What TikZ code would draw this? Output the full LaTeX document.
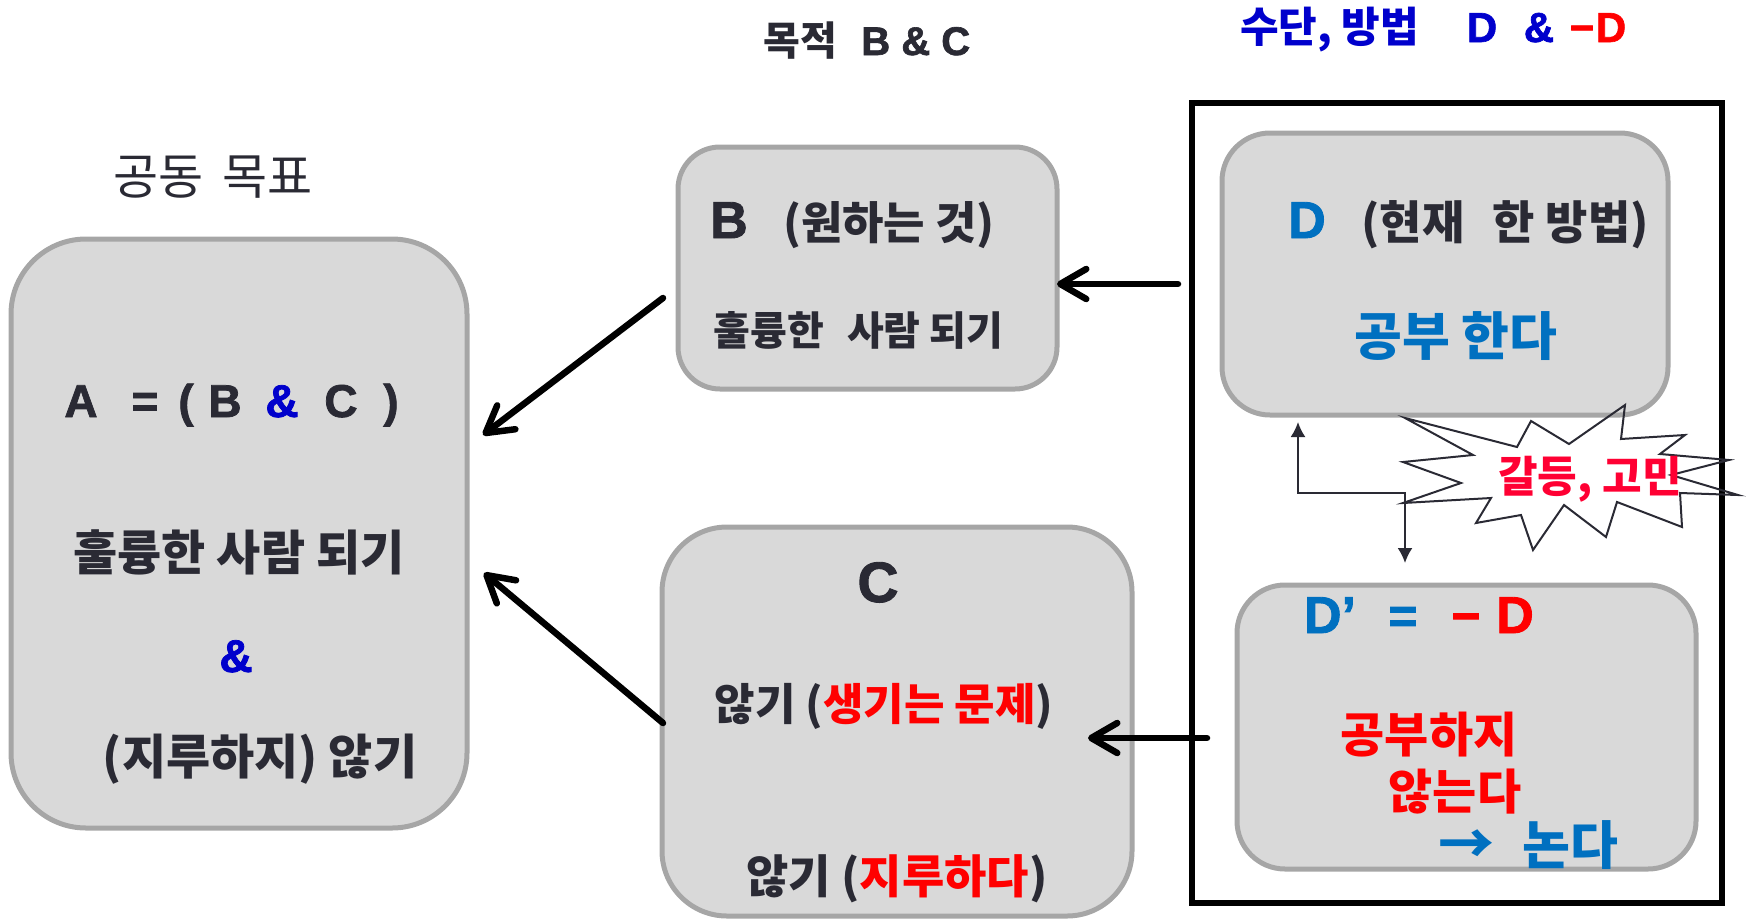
\documentclass[tikz,border=0pt]{standalone}
\usepackage{fontspec}
\setmainfont{Noto Sans CJK KR}
\newfontfamily\lat{Liberation Sans}[BoldFeatures={FakeBold=1.6}]
\usetikzlibrary{arrows.meta,calc}
\definecolor{txt}{HTML}{2A2A34}
\definecolor{boxfill}{HTML}{D9D9D9}
\definecolor{boxline}{HTML}{A6A6A6}
\definecolor{hblue}{HTML}{0000CC}
\definecolor{dblue}{HTML}{0070C0}
\definecolor{myred}{HTML}{FF0000}
\definecolor{crim}{HTML}{FF0033}
\newcommand{\fs}[1]{\fontsize{#1}{#1}\selectfont}
\tikzset{
  rbox/.style={draw=boxline, fill=boxfill, line width=5pt, inner sep=0pt, outer sep=0pt},
  tx/.style={inner sep=0pt, anchor=base, text=txt, font=\bfseries},
  arr/.style={draw=black, line width=6.5pt, line cap=round, -{Straight Barb[length=26pt,width=30pt,round]}},
  elb/.style={draw=txt, line width=2pt, {Latex[length=15pt,width=15pt]}-{Latex[length=15pt,width=15pt]}},
  burst/.style={draw=txt, line width=2pt, line join=miter}
}
\begin{document}
\begin{tikzpicture}[x=1pt,y=-1pt]
\useasboundingbox (0,0) rectangle (1748,919);
% headings
\node[tx,font=\normalfont] (tGoal) at (213,194) {\fs{49}공동\hspace{8pt} 목표};
\node[tx] (tPurp) at (867,55) {\fs{40}목적\hspace{24pt}{\lat B \& C}};
\node[tx,anchor=base west,text=hblue] (h1) at (1240,42) {\fs{42}수단, 방법};
\node[tx,text=hblue] (h2) at (1482,42) {\lat\fs{42}D};
\node[tx,text=hblue] (h3) at (1539,42) {\lat\fs{42}\&};
\node[tx,text=myred] (h4) at (1582,42) {\lat\fs{42}−};
\node[tx,text=myred] (h5) at (1611,42) {\lat\fs{42}D};
% boxes
\node[rbox,rounded corners=75pt,minimum width=456pt,minimum height=589pt] (A) at (239,533.5) {};
\node[rbox,rounded corners=42pt,minimum width=379pt,minimum height=242pt] (B) at (867.5,268) {};
\node[rbox,rounded corners=65pt,minimum width=470pt,minimum height=389pt] (C) at (897,721.5) {};
\node[draw=black,line width=5.5pt,inner sep=0pt,outer sep=0pt,minimum width=530pt,minimum height=800pt] (grp) at (1457,503) {};
\node[rbox,rounded corners=48pt,minimum width=446pt,minimum height=282pt] (D) at (1445,274) {};
\node[rbox,rounded corners=48pt,minimum width=459pt,minimum height=284pt] (Dp) at (1466.5,727) {};
% connectors
\draw[arr] ($(B.west)+(-15,30)$) -- ($(A.east)+(16,-98.5)$);
\draw[arr] ($(C.west)+(1,1.5)$) -- ($(A.east)+(17,39.5)$);
\coordinate (dbh) at ($(B.east)+(0,16)$);
\draw[arr] ($(grp.west |- dbh)+(-14,0)$) -- (dbh);
\coordinate (dch) at ($(C.east)+(-44,16.5)$);
\draw[arr] ($(grp.west |- dch)+(15,0)$) -- (dch);
\coordinate (e1) at ($(D.south)+(-147,7)$);
\coordinate (e2) at ($(Dp.north)+(-61.5,-22)$);
\coordinate (em) at ($(e1)!0.5!(e2)$);
\draw[elb] (e1) |- (em -| e2) -- (e2);
% burst
\draw[burst] (1405,418) -- (1517,447) -- (1531,421) -- (1569,444) -- (1625,405) -- (1621,439) -- (1685,435) -- (1660,454) -- (1729,460) -- (1671,475) -- (1738,495) -- (1680,493) -- (1682,527) -- (1617,502) -- (1606,537) -- (1564,505) -- (1533,550) -- (1521,515) -- (1476,523) -- (1491,498) -- (1403,503) -- (1461,483) -- (1403,462) -- (1473,455) -- cycle;
\node[tx,text=crim] (tConf) at (1590,492) {\fs{43}갈등, 고민};
% A texts
\node[tx] (a1) at (81,417) {\lat\fs{46}A};
\node[tx] (a2) at (145,417) {\lat\fs{46}=};
\node[tx] (a3) at (186,417) {\lat\fs{46}(};
\node[tx] (a4) at (225,417) {\lat\fs{46}B};
\node[tx,text=hblue] (a5) at (282,417) {\lat\fs{46}\&};
\node[tx] (a6) at (341,417) {\lat\fs{46}C};
\node[tx] (a7) at (391,417) {\lat\fs{46})};
\node[tx] (tA2) at (239,570) {\fs{48}훌륭한 사람 되기};
\node[tx,text=hblue] (tA3) at (236,672) {\lat\fs{46}\&};
\node[tx] (tA4) at (260,774) {\fs{48}(지루하지) 않기};
% B texts
\node[tx] (tB1) at (729,238) {\lat\fs{52}B};
\node[tx] (tB2) at (889,239) {\fs{45}(원하는 것)};
\node[tx] (tB3) at (858.5,345) {\fs{40}훌륭한\hspace{14pt} 사람 되기};
% C texts
\node[tx] (tC1) at (878,602) {\lat\fs{57}C};
\node[tx] (tC2) at (884,720) {\fs{44}않기 (\textcolor{myred}{생기는 문제})};
\node[tx] (tC3) at (897,893) {\fs{46}않기 (\textcolor{myred}{지루하다})};
% D texts
\node[tx,text=dblue] (tD) at (1307,238) {\lat\fs{52}D};
\node[tx] (tD2) at (1505,239) {\fs{46}(현재\hspace{18pt} 한 방법)};
\node[tx,text=dblue] (tD3) at (1456,355) {\fs{52}공부 한다};
% D' texts
\node[tx,text=dblue] (tP1) at (1330,633) {\lat\fs{52}D’};
\node[tx,text=dblue] (tP2) at (1403,633) {\lat\fs{50}=};
\node[tx,text=myred] (tP3) at (1466,633) {\lat\fs{50}−};
\node[tx,text=myred] (tP4) at (1515,633) {\lat\fs{52}D};
\node[tx,text=myred] (tP5) at (1429,752) {\fs{48}공부하지};
\node[tx,text=myred] (tP6) at (1455,809) {\fs{48}않는다};
\node[tx,text=dblue] (tP7) at (1466,864) {\fs{56}→};
\node[tx,text=dblue] (tP8) at (1570,864) {\fs{52}논다};
\end{tikzpicture}
\end{document}
